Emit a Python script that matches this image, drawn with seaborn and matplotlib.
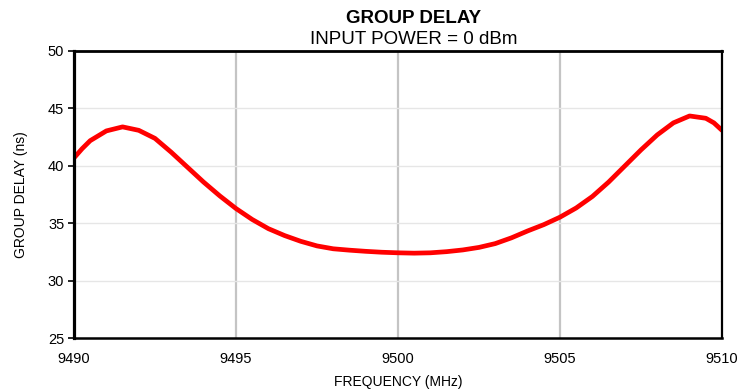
import numpy as np
import pandas as pd
import seaborn as sns
import matplotlib.pyplot as plt

# values
freq_mhz = [9490.0, 9490.25, 9490.5, 9491.0, 9491.5, 9492.0, 9492.5, 9493.0,
            9493.5, 9494.0, 9494.5, 9495.0, 9495.5, 9496.0, 9496.5, 9497.0,
            9497.5, 9498.0, 9498.5, 9499.0, 9499.5, 9500.0, 9500.5, 9501.0,
            9501.5, 9502.0, 9502.5, 9503.0, 9503.5, 9504.0, 9504.5, 9505.0,
            9505.5, 9506.0, 9506.5, 9507.0, 9507.5, 9508.0, 9508.5, 9509.0,
            9509.5, 9509.75, 9510.0]
delay_ns = [40.7, 41.5, 42.2, 43.05, 43.4, 43.1, 42.4, 41.2,
            39.9, 38.6, 37.4, 36.3, 35.35, 34.55, 33.95, 33.45,
            33.05, 32.8, 32.68, 32.58, 32.5, 32.45, 32.42, 32.45,
            32.55, 32.7, 32.92, 33.25, 33.75, 34.35, 34.9, 35.55,
            36.35, 37.35, 38.6, 40.0, 41.4, 42.7, 43.75, 44.35,
            44.15, 43.75, 43.1]
x_ticks = [9490, 9495, 9500, 9505, 9510]
y_ticks = [25, 30, 35, 40, 45, 50]

df = pd.DataFrame({'freq': freq_mhz, 'delay': delay_ns})

sns.set_style('white')
plt.rcParams['font.family'] = ['Liberation Sans', 'DejaVu Sans']
plt.rcParams['text.color'] = 'black'
plt.rcParams['axes.labelcolor'] = 'black'
plt.rcParams['xtick.color'] = 'black'
plt.rcParams['ytick.color'] = 'black'

fig = plt.figure(figsize=(7.39, 3.91), dpi=100)
ax = fig.add_axes([0.1001, 0.1343, 0.8769, 0.7353])

# grid: darker vertical, faint horizontal
for xv in x_ticks[1:-1]:
    ax.axvline(xv, color='#c4c4c4', lw=1.6, zorder=0)
for yv in y_ticks[1:-1]:
    ax.axhline(yv, color='#e6e6e6', lw=1.0, zorder=0)

sns.lineplot(data=df, x='freq', y='delay', color='#ff0000', linewidth=3.4, ax=ax)
for line in ax.lines:
    line.set_solid_joinstyle('round')

ax.set_xlim(9490, 9510)
ax.set_ylim(25, 50)
ax.set_xticks(x_ticks)
ax.set_yticks(y_ticks)
ax.tick_params(axis='x', length=0, pad=10, labelsize=10.5)
ax.tick_params(axis='y', length=4, width=1.2, direction='out', pad=3, labelsize=10.5, left=True)

for side, lw in [('left', 2.3), ('top', 2.0), ('bottom', 1.8), ('right', 1.6)]:
    ax.spines[side].set_visible(True)
    ax.spines[side].set_color('black')
    ax.spines[side].set_linewidth(lw)

ax.set_xlabel('FREQUENCY (MHz)', fontsize=10, labelpad=6)
ax.set_ylabel('GROUP DELAY (ns)', fontsize=10, labelpad=14)

fig.text(0.560, 0.952, 'GROUP DELAY', ha='center', va='center', fontsize=13.5, fontweight='bold')
fig.text(0.560, 0.899, 'INPUT POWER = 0 dBm', ha='center', va='center', fontsize=13.5)

plt.savefig('out.png', dpi=100)
plt.close()
